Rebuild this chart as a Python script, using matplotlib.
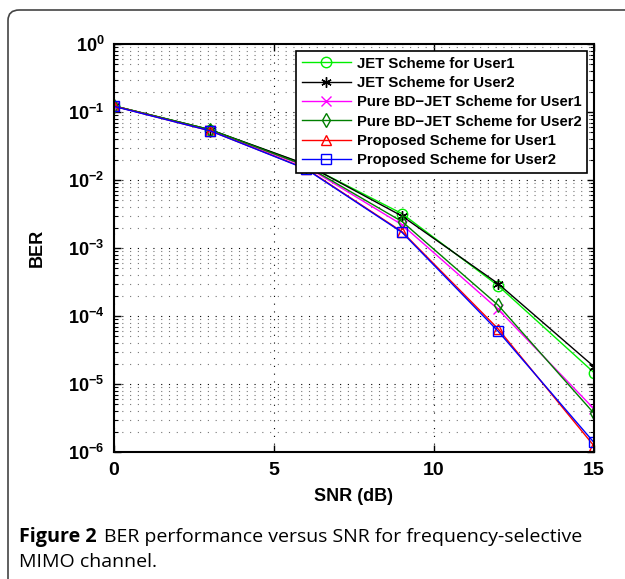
import numpy as np
import matplotlib
matplotlib.use('Agg')
import matplotlib.pyplot as plt
from matplotlib.patches import FancyBboxPatch
from matplotlib.ticker import FuncFormatter

plt.rcParams['font.family'] = ['Liberation Sans', 'DejaVu Sans']
plt.rcParams['mathtext.fontset'] = 'custom'
plt.rcParams['mathtext.rm'] = 'Liberation Sans:bold'
plt.rcParams['mathtext.it'] = 'Liberation Sans:bold'
plt.rcParams['mathtext.bf'] = 'Liberation Sans:bold'

# SNR points and BER curves
snr = [0, 3, 6, 9, 12, 15]
jet_u1 = [0.123, 0.055, 0.0168, 3.2e-3, 2.8e-4, 1.47e-5]
jet_u2 = [0.123, 0.055, 0.0170, 2.95e-3, 3.0e-4, 1.8e-5]
bd_u1 = [0.122, 0.054, 0.0158, 2.2e-3, 1.26e-4, 4.3e-6]
bd_u2 = [0.123, 0.055, 0.0162, 2.45e-3, 1.45e-4, 3.7e-6]
prop_u1 = [0.122, 0.053, 0.0147, 1.74e-3, 6.5e-5, 1.23e-6]
prop_u2 = [0.121, 0.053, 0.0145, 1.70e-3, 6.0e-5, 1.38e-6]

labels = ['JET Scheme for User1', 'JET Scheme for User2',
          'Pure BD\u2212JET Scheme for User1', 'Pure BD\u2212JET Scheme for User2',
          'Proposed Scheme for User1', 'Proposed Scheme for User2']
series = [jet_u1, jet_u2, bd_u1, bd_u2, prop_u1, prop_u2]
colors = ['#00ee00', 'black', '#ff00ff', '#007f00', '#ff0000', '#0000ff']
markers = ['o', (6, 2, 0), 'x', 'd', '^', 's']

fig = plt.figure(figsize=(6.25, 5.79), dpi=100)

# rounded frame around the figure panel
frame = FancyBboxPatch((8 / 625, -0.2), 1.2, 1.2 - 10 / 579,
                       boxstyle='round,pad=0,rounding_size=0.018',
                       transform=fig.transFigure, fill=False,
                       edgecolor='#444444', linewidth=1.2)
fig.patches.append(frame)

ax = fig.add_axes([114 / 625, 1 - 452 / 579, 480 / 625, 408 / 579])

for y, lab, c, m in zip(series, labels, colors, markers):
    ax.semilogy(snr, y, color=c, marker=m, markersize=7.5, fillstyle='none',
                markeredgewidth=1.0, linewidth=1.0, label=lab)

ax.set_xlim(0, 15)
ax.set_ylim(1e-6, 1)
ax.set_xticks([0, 5, 10, 15])
ax.yaxis.set_major_formatter(FuncFormatter(lambda v, p: r'$\mathbf{10^{%d}}$' % round(np.log10(v))))
ax.grid(True, which='major', linestyle=(0, (1, 6)), color='black', linewidth=0.8)
ax.grid(True, which='minor', axis='y', linestyle=(0, (1, 6)), color='#777777', linewidth=0.8)
ax.tick_params(which='both', direction='in', top=True, right=True)
ax.tick_params(which='major', length=5, width=1.0, labelsize=13, pad=7)
ax.tick_params(which='minor', length=3, width=0.8)
for lab in ax.get_xticklabels():
    lab.set_fontweight('bold')
    lab.set_fontsize(14)
for s in ax.spines.values():
    s.set_linewidth(1.5)

ax.set_xlabel('SNR (dB)', fontsize=13, fontweight='bold', labelpad=7)
ax.set_ylabel('BER', fontsize=13, fontweight='bold', labelpad=16)

leg = ax.legend(loc='upper right', prop={'weight': 'bold', 'size': 10.7},
                frameon=True, fancybox=False, edgecolor='black', framealpha=1,
                borderpad=0.35, labelspacing=0.36, handlelength=3.3,
                handletextpad=0.4, borderaxespad=0.5)
leg.get_frame().set_linewidth(1.2)

# caption below the chart
fig.canvas.draw()
r = fig.canvas.get_renderer()
t1 = fig.text(19 / 625, 1 - 537 / 579, 'Figure 2', fontsize=14.2, fontweight='bold',
              family='Open Sans', va='center', ha='left')
bb = t1.get_window_extent(renderer=r)
fig.text((bb.x1 + 7) / 625, 1 - 537 / 579,
         'BER performance versus SNR for frequency-selective',
         fontsize=14, family='Open Sans', va='center', ha='left')
fig.text(19 / 625, 1 - 562 / 579, 'MIMO channel.', fontsize=14,
         family='Open Sans', va='center', ha='left')

fig.savefig('out.png', dpi=100)
